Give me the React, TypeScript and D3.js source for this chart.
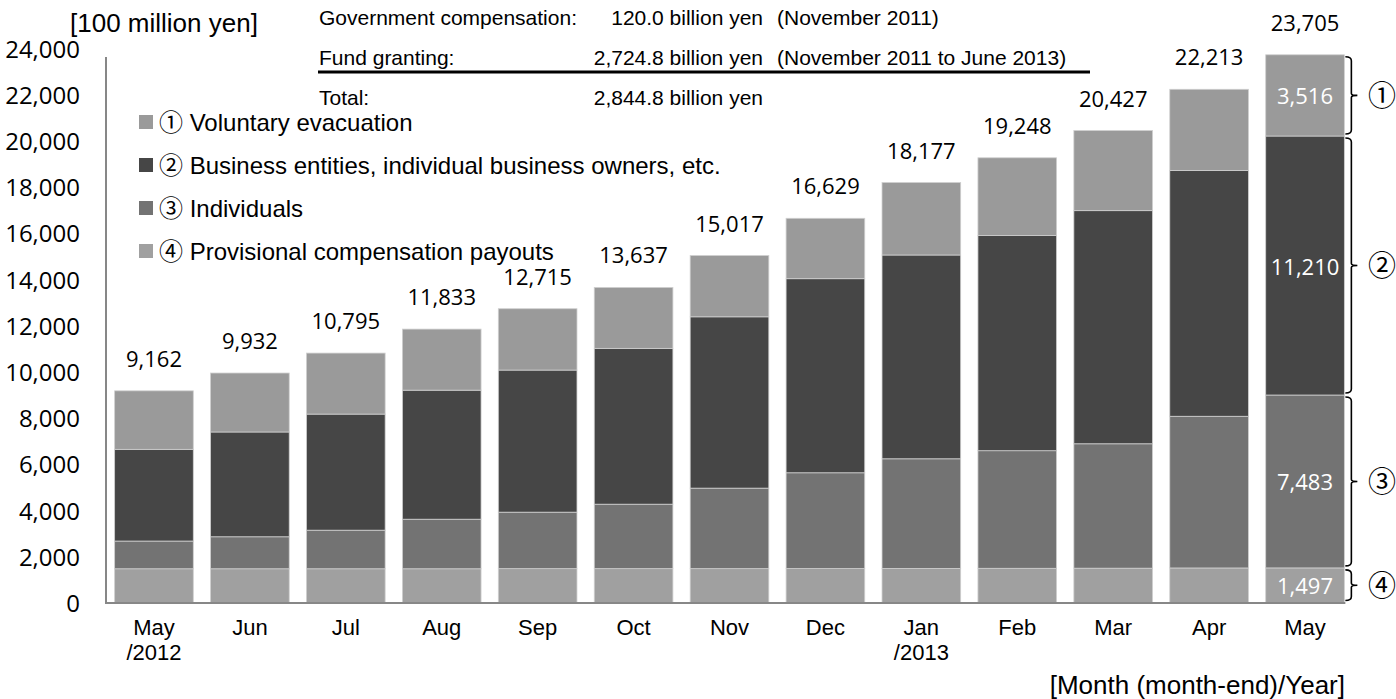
import React from 'react';
import * as d3 from 'd3';

const months = ['May 2012','Jun 2012','Jul 2012','Aug 2012','Sep 2012','Oct 2012','Nov 2012','Dec 2012','Jan 2013','Feb 2013','Mar 2013','Apr 2013','May 2013'];
const monthLabels = [['May','/2012'],['Jun'],['Jul'],['Aug'],['Sep'],['Oct'],['Nov'],['Dec'],['Jan','/2013'],['Feb'],['Mar'],['Apr'],['May']];
// ④ Provisional compensation payouts
const provisional = [1460,1460,1460,1460,1465,1465,1465,1470,1475,1480,1485,1495,1497];
// ③ Individuals
const individuals = [1200,1385,1670,2145,2445,2790,3485,4145,4745,5090,5385,6565,7483];
// ② Business entities, individual business owners, etc.
const business = [3970,4535,5025,5585,6150,6745,7415,8400,8820,9310,10090,10640,11210];
// ① Voluntary evacuation
const voluntary = [2532,2552,2640,2643,2655,2637,2652,2614,3137,3368,3467,3513,3516];
const totals = [9162,9932,10795,11833,12715,13637,15017,16629,18177,19248,20427,22213,23705];
const yTicks = [0,2000,4000,6000,8000,10000,12000,14000,16000,18000,20000,22000,24000];

const legendNames = ['① Voluntary evacuation','② Business entities, individual business owners, etc.','③ Individuals','④ Provisional compensation payouts'];
const braceMarks = ['④','③','②','①'];
const noteLabels = ['Government compensation:','Fund granting:','Total:'];
const noteValues = ['120.0 billion yen','2,724.8 billion yen','2,844.8 billion yen'];
const notePeriods = ['(November 2011)','(November 2011 to June 2013)',''];

const keys = ['p','i','b','v'];
const colors: Record<string,string> = { p:'#a0a0a0', i:'#737373', b:'#464646', v:'#9a9a9a' };
const legendColors = ['#9a9a9a','#464646','#737373','#a0a0a0'];

const ARIAL = '"Liberation Sans", Arial, "Noto Sans CJK JP", "DejaVu Sans", sans-serif';
const CAL = '"Open Sans", "Noto Sans", sans-serif';

export default function App() {
  const rows = months.map((m, k) => ({ m, p: provisional[k], i: individuals[k], b: business[k], v: voluntary[k] }));
  const stack = d3.stack<any>().keys(keys)(rows);
  const x = d3.scaleBand<string>().domain(months).range([106, 1353]).paddingInner(0.18).paddingOuter(0.09);
  const y = d3.scaleLinear().domain([0, 24000]).range([602.5, 48]);
  const fmt = d3.format(',');
  const bw = x.bandwidth();
  const last = months.length - 1;
  const lastX = (x(months[last]) as number);
  const barRight = lastX + bw;

  return (
    <svg width={1396} height={699} style={{ position: 'absolute', left: 0, top: 0, background: '#fff' }}>
      {/* bars */}
      {stack.map((s) => (
        <g key={s.key}>
          {s.map((d, k) => (
            <rect key={k} x={x(months[k])} y={y(d[1])} width={bw} height={y(d[0]) - y(d[1])}
              fill={colors[s.key]} stroke="#cfcfcf" strokeWidth={0.8} />
          ))}
        </g>
      ))}
      {/* axes */}
      <line x1={106} x2={106} y1={57} y2={y(0) + 1} stroke="#878787" strokeWidth={2} />
      <line x1={105} x2={barRight + 1} y1={y(0) + 0.5} y2={y(0) + 0.5} stroke="#878787" strokeWidth={2} />
      {yTicks.map((t) => (
        <text key={t} x={80} y={y(t)} textAnchor="end" dominantBaseline="central" fontFamily={CAL} fontSize={24} fill="#000">{fmt(t)}</text>
      ))}
      {monthLabels.map((ls, k) => ls.map((l, j) => (
        <text key={k + '-' + j} x={(x(months[k]) as number) + bw / 2} y={627 + j * 25} textAnchor="middle" dominantBaseline="central" fontFamily={ARIAL} fontSize={22} fill="#000">{l}</text>
      )))}
      {/* total labels */}
      {totals.map((t, k) => (
        <text key={k} x={(x(months[k]) as number) + bw / 2} y={y(t) - 33} textAnchor="middle" dominantBaseline="central" fontFamily={CAL} fontSize={22} fill="#000">{fmt(t)}</text>
      ))}
      {/* last bar segment labels and braces */}
      {stack.map((s, si) => {
        const d = s[last];
        const y0 = y(d[0]);
        const y1 = y(d[1]);
        const mid = (y0 + y1) / 2;
        const val = d[1] - d[0];
        const top = y1 + 2;
        const bot = y0 - 2;
        const xa = barRight + 1;
        const xb = barRight + 7;
        const xc = barRight + 13;
        const path = `M${xa},${top} Q${xb},${top} ${xb},${top + 4} L${xb},${mid - 2} Q${xb},${mid} ${xc},${mid} Q${xb},${mid} ${xb},${mid + 2} L${xb},${bot - 4} Q${xb},${bot} ${xa},${bot}`;
        return (
          <g key={s.key}>
            <text x={lastX + bw / 2} y={mid} textAnchor="middle" dominantBaseline="central" fontFamily={CAL} fontSize={22} fill="#fff">{fmt(val)}</text>
            <path d={path} fill="none" stroke="#000" strokeWidth={1.6} />
            <text x={1382} y={mid + 1} textAnchor="middle" dominantBaseline="central" fontFamily={ARIAL} fontSize={28} fill="#000">{braceMarks[si]}</text>
          </g>
        );
      })}
      {/* legend */}
      {legendNames.map((n, k) => (
        <g key={n}>
          <rect x={139} y={122 + k * 43 - 7} width={14} height={14} fill={legendColors[k]} />
          <text x={159} y={122 + k * 43} dominantBaseline="central" fontFamily={ARIAL} fontSize={24} fill="#000">{n}</text>
        </g>
      ))}
      {/* unit titles */}
      <text x={70} y={23} dominantBaseline="central" fontFamily={ARIAL} fontSize={26} fill="#000">[100 million yen]</text>
      <text x={1345} y={685} textAnchor="end" dominantBaseline="central" fontFamily={ARIAL} fontSize={26} fill="#000">[Month (month-end)/Year]</text>
      {/* note */}
      {noteLabels.map((l, k) => (
        <g key={l}>
          <text x={319} y={17 + k * 40} dominantBaseline="central" fontFamily={ARIAL} fontSize={21} fill="#000">{l}</text>
          <text x={763} y={17 + k * 40} textAnchor="end" dominantBaseline="central" fontFamily={ARIAL} fontSize={21} fill="#000">{noteValues[k]}</text>
          <text x={777} y={17 + k * 40} dominantBaseline="central" fontFamily={ARIAL} fontSize={21} fill="#000">{notePeriods[k]}</text>
        </g>
      ))}
      <line x1={318} x2={1090} y1={72} y2={72} stroke="#000" strokeWidth={3} />
    </svg>
  );
}
